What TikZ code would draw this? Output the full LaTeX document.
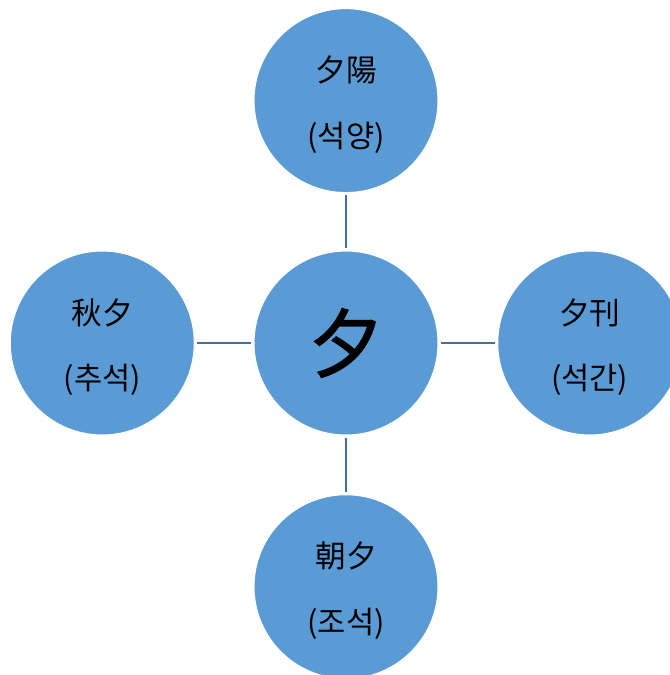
\documentclass[tikz,border=0pt]{standalone}
\usepackage{fontspec}
\newfontfamily\krfont{Noto Sans CJK KR}
\newfontfamily\krhub[FakeBold=1.6]{Noto Sans CJK KR}
\usetikzlibrary{positioning}
\definecolor{bubblefill}{HTML}{5B9BD5}
\definecolor{linkblue}{HTML}{41719C}
\tikzset{
  bubble/.style={circle, fill=bubblefill, draw=white, line width=0.8pt,
    minimum size=138pt, inner sep=0pt},
  wordtext/.style={align=center, yshift=-3pt,
    font=\krfont\fontsize{23}{49}\selectfont},
  word/.style={bubble, label={[wordtext]center:#1}},
  link/.style={draw=linkblue, line width=1.6pt, shorten <=1.5pt, shorten >=1.5pt}
}
\begin{document}
\begin{tikzpicture}[x=0.75pt,y=-0.75pt]
\useasboundingbox (0,0) rectangle (670,675);
\clip (0,0) rectangle (670,675);

% Draw the hub.
\node[bubble, font=\krhub\fontsize{56}{56}\selectfont] (xi) at (346,343) {夕};

% Draw the four words around it.
\node[word={夕陽\\(석양)}, above=43pt of xi] (xiyang) {};
\node[word={秋夕\\(추석)}, left=44pt of xi] (qiuxi) {};
\node[word={夕刊\\(석간)}, right=44pt of xi] (xikan) {};
\node[word={朝夕\\(조석)}, below=44pt of xi] (zhaoxi) {};

% Draw links.
\foreach \n in {xiyang,qiuxi,xikan,zhaoxi}
\draw[link] (xi) -- (\n);
\end{tikzpicture}
\end{document}
